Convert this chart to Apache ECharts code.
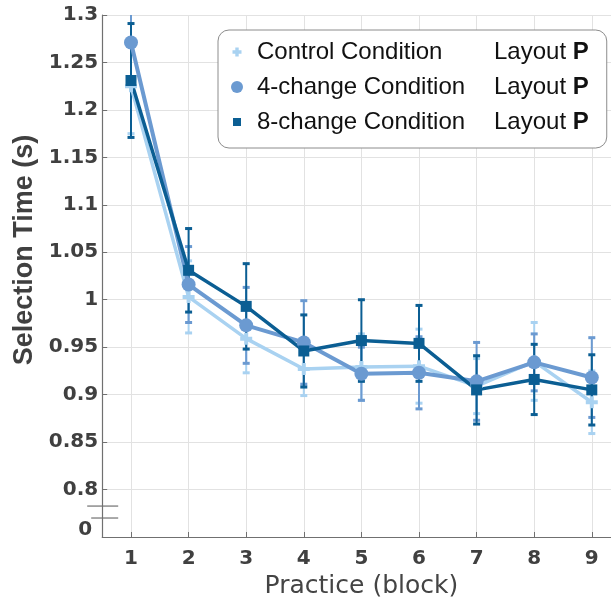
<!DOCTYPE html>
<html>
<head>
<meta charset="utf-8">
<script src="https://cdn.jsdelivr.net/npm/echarts@6/dist/echarts.min.js"></script>
<style>html,body{margin:0;padding:0;background:#fff;}#c{width:611px;height:599px;}</style>
</head>
<body>
<div id="c"></div>
<script>
// ---- data ----
const blocks = ['1','2','3','4','5','6','7','8','9'];
const controlMean = [1.225, 1.003, 0.959, 0.927, 0.929, 0.930, 0.909, 0.935, 0.892];
const controlErr  = [0.050, 0.038, 0.036, 0.028, 0.035, 0.039, 0.029, 0.041, 0.033];
const fourMean    = [1.271, 1.016, 0.973, 0.955, 0.922, 0.923, 0.914, 0.934, 0.918];
const fourErr     = [0.036, 0.040, 0.040, 0.044, 0.028, 0.038, 0.041, 0.030, 0.042];
const eightMean   = [1.231, 1.031, 0.993, 0.946, 0.957, 0.954, 0.905, 0.916, 0.905];
const eightErr    = [0.060, 0.044, 0.045, 0.038, 0.043, 0.040, 0.036, 0.037, 0.037];
const yTickValues = [0.758, 0.8, 0.85, 0.9, 0.95, 1.0, 1.05, 1.1, 1.15, 1.2, 1.25, 1.3];
const yTickLabels = ['0', '0.8', '0.85', '0.9', '0.95', '1', '1.05', '1.1', '1.15', '1.2', '1.25', '1.3'];
const seriesNames = ['Control Condition', '4-change Condition', '8-change Condition'];
const layoutLabel = 'P';

const cLight = '#a9d2f1', cMid = '#6b9ad1', cDark = '#0b5e93';
const plusPath = 'path://M4,0H8V4H12V8H8V12H4V8H0V4H4Z';
const plusLegend = 'path://M0,0M12,12M4.3,1.5H7.7V4.3H10.5V7.7H7.7V10.5H4.3V7.7H1.5V4.3H4.3Z';
const squareLegend = 'path://M0,0M12,12M2,2H10V10H2Z';

const chart = echarts.init(document.getElementById('c'), null, {renderer: 'canvas'});

function errData(m, e) { return m.map((v, i) => [i, v, e[i]]); }
function errRender(color) {
  return function (params, api) {
    const x = api.value(0), m = api.value(1), e = api.value(2);
    const t = api.coord([x, m + e]);
    const b = api.coord([x, m - e]);
    const cw = 7, ch = 3;
    return {
      type: 'group',
      children: [
        {type: 'line', shape: {x1: t[0], y1: t[1], x2: b[0], y2: b[1]}, style: {stroke: color, lineWidth: 2}},
        {type: 'rect', shape: {x: t[0] - cw / 2, y: t[1] - ch / 2, width: cw, height: ch}, style: {fill: color}},
        {type: 'rect', shape: {x: b[0] - cw / 2, y: b[1] - ch / 2, width: cw, height: ch}, style: {fill: color}}
      ]
    };
  };
}

const labelFont = {fontFamily: 'DejaVu Sans', fontWeight: 'bold', fontSize: 20, color: '#404040'};

const option = {
  animation: false,
  backgroundColor: '#fff',
  grid: {left: 102.2, right: -9.6, top: 15, bottom: 62, containLabel: false, outerBoundsMode: 'none'},
  legend: {
    orient: 'vertical',
    left: 218, top: 30,
    padding: [10, 18, 14, 13],
    itemGap: 11,
    itemWidth: 12, itemHeight: 12,
    backgroundColor: '#fff',
    borderColor: '#8c8c8c', borderWidth: 1, borderRadius: 11,
    selectedMode: false,
    data: [
      {name: seriesNames[0], icon: plusLegend, itemStyle: {color: cLight}},
      {name: seriesNames[1], icon: 'circle', itemStyle: {color: cMid}},
      {name: seriesNames[2], icon: squareLegend, itemStyle: {color: cDark}}
    ],
    formatter: function (name) { return '{n|' + name + '}{l|Layout }{b|' + layoutLabel + '}'; },
    textStyle: {
      padding: [0, 0, 0, 9],
      rich: {
        n: {width: 237, fontFamily: 'Liberation Sans', fontSize: 24, color: '#111', lineHeight: 26},
        l: {fontFamily: 'Liberation Sans', fontSize: 24, color: '#111', lineHeight: 26},
        b: {fontFamily: 'Liberation Sans', fontSize: 24, fontWeight: 'bold', color: '#111', lineHeight: 26}
      }
    }
  },
  xAxis: {
    type: 'category',
    data: blocks,
    boundaryGap: true,
    name: 'Practice (block)',
    nameLocation: 'middle',
    nameGap: 31,
    nameTextStyle: {fontFamily: 'DejaVu Sans', fontSize: 25, color: '#444'},
    axisLine: {lineStyle: {color: '#707070', width: 1.2}},
    axisTick: {show: true, inside: true, length: 5, alignWithLabel: true, lineStyle: {color: '#707070'}},
    axisLabel: Object.assign({margin: 12}, labelFont),
    splitLine: {show: true, alignWithLabel: true, lineStyle: {color: '#e2e2e2', width: 1}}
  },
  yAxis: {
    type: 'value',
    min: 0.75, max: 1.3, interval: 0.05,
    name: 'Selection Time (s)',
    nameLocation: 'middle',
    nameGap: 61,
    nameTextStyle: {fontFamily: 'Liberation Sans', fontWeight: 'bold', fontSize: 27, color: '#404040', padding: [0, 0, 0, 52]},
    axisLine: {show: true, lineStyle: {color: '#707070', width: 1.2}},
    axisTick: {show: true, inside: true, length: 5, lineStyle: {color: '#707070'}},
    axisLabel: Object.assign({
      margin: 4,
      customValues: yTickValues,
      formatter: function (v) {
        let idx = 0, best = 1e9;
        yTickValues.forEach((t, i) => { const d = Math.abs(t - v); if (d < best) { best = d; idx = i; } });
        return idx === 0 ? '{z|' + yTickLabels[0] + '}' : yTickLabels[idx];
      },
      rich: {z: {fontFamily: 'DejaVu Sans', fontWeight: 'bold', fontSize: 20, color: '#404040', padding: [0, 6, 0, 0]}}
    }, labelFont),
    splitLine: {show: true, lineStyle: {color: '#e2e2e2', width: 1}}
  },
  series: [
    {name: 'ctrlErr', type: 'custom', renderItem: errRender(cLight), data: errData(controlMean, controlErr), encode: {x: 0, y: 1}, clip: true, z: 2},
    {name: seriesNames[0], type: 'line', data: controlMean, color: cLight, lineStyle: {width: 3.5, color: cLight},
      symbol: plusPath, symbolSize: 12, showAllSymbol: true, itemStyle: {color: cLight}, z: 2},
    {name: 'fourErr', type: 'custom', renderItem: errRender(cMid), data: errData(fourMean, fourErr), encode: {x: 0, y: 1}, clip: true, z: 2},
    {name: seriesNames[1], type: 'line', data: fourMean, color: cMid, lineStyle: {width: 4, color: cMid},
      symbol: 'circle', symbolSize: 14, showAllSymbol: true, itemStyle: {color: cMid}, z: 2},
    {name: 'eightErr', type: 'custom', renderItem: errRender(cDark), data: errData(eightMean, eightErr), encode: {x: 0, y: 1}, clip: true, z: 2},
    {name: seriesNames[2], type: 'line', data: eightMean, color: cDark, lineStyle: {width: 3.5, color: cDark},
      symbol: 'rect', symbolSize: 11, showAllSymbol: true, itemStyle: {color: cDark}, z: 2}
  ]
};
chart.setOption(option);

// axis-break marks on the y axis
const y1 = chart.convertToPixel({yAxisIndex: 0}, 0.7826);
const y2 = chart.convertToPixel({yAxisIndex: 0}, 0.770);
const ax = 102.2;
chart.setOption({
  graphic: [
    {type: 'line', shape: {x1: ax - 15, y1: y1, x2: ax + 16, y2: y1}, style: {stroke: '#707070', lineWidth: 1.2}, z: 10},
    {type: 'line', shape: {x1: ax - 11, y1: y2, x2: ax + 16, y2: y2}, style: {stroke: '#707070', lineWidth: 1.2}, z: 10}
  ]
});
</script>
</body>
</html>
